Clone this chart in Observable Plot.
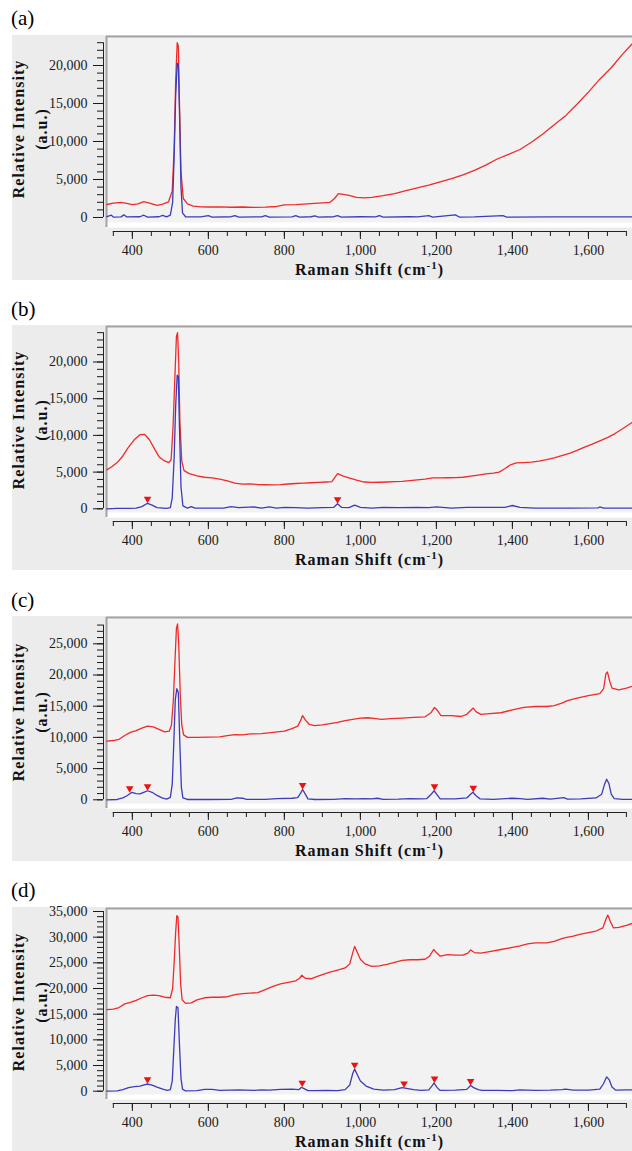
<!DOCTYPE html>
<html><head><meta charset="utf-8">
<script src="https://cdn.jsdelivr.net/npm/d3@7"></script>
<script src="https://cdn.jsdelivr.net/npm/@observablehq/plot@0.6"></script>
<style>
body{margin:0;background:#fff;}
#root{position:relative;width:632px;height:1151px;overflow:hidden;font-family:"Liberation Serif","Times New Roman",serif;}
.lab{position:absolute;left:11px;font-size:21px;line-height:21px;color:#000;}
.box{position:absolute;left:12px;width:620px;height:245px;background:#ececec;}
.wrap{position:absolute;left:0;width:632px;height:245px;}
.wrap svg text{font-family:"Liberation Serif","Times New Roman",serif;}
</style></head><body><div id="root"></div>
<script>
// ---------- data (Raman shift cm-1, intensity a.u.) ----------
const panelLabels = ["(a)", "(b)", "(c)", "(d)"];
const xTitle = "Raman Shift (cm-1)";
const yTitle1 = "Relative Intensity";
const yTitle2 = "(a.u.)";
const xMajorTicks = [400, 600, 800, 1000, 1200, 1400, 1600];

// (a)
const aRaw = [[333,1710],[350,1900],[370,2000],[385,1850],[400,1700],[415,1800],[430,2100],[445,1900],[465,1600],[480,1750],[495,2050],[505,3500],[510,9000],[514,18000],[518,23000],[521,22600],[524,15000],[528,6000],[534,2500],[545,1800],[560,1500],[580,1400],[600,1380],[630,1400],[660,1350],[690,1380],[720,1330],[750,1360],[780,1450],[800,1650],[830,1700],[860,1800],[890,1900],[920,2000],[932,2500],[942,3150],[955,3050],[970,2900],[990,2650],[1010,2580],[1030,2650],[1060,2880],[1090,3150],[1120,3550],[1150,3900],[1180,4250],[1210,4700],[1240,5100],[1270,5600],[1300,6200],[1330,6900],[1360,7700],[1390,8300],[1420,8950],[1450,9900],[1480,11000],[1510,12200],[1540,13400],[1570,14900],[1600,16500],[1630,18200],[1660,19700],[1690,21500],[1716,22900]];
const aProc = [[333,100],[345,300],[350,50],[370,80],[378,350],[385,80],[420,100],[430,300],[440,60],[470,100],[480,280],[490,80],[500,300],[506,2000],[510,8000],[514,16000],[518,20300],[521,20100],[524,14000],[528,4000],[532,600],[540,100],[580,80],[600,250],[610,60],[660,100],[670,250],[680,60],[740,80],[750,250],[760,60],[820,90],[830,250],[840,60],[870,100],[880,200],[890,60],[930,100],[940,250],[950,60],[1000,100],[1040,80],[1050,250],[1060,60],[1130,100],[1150,80],[1180,250],[1190,50],[1250,350],[1260,60],[1300,80],[1375,250],[1385,60],[1500,80],[1600,70],[1716,80]];
const aPeaks = [];

// (b)
const bRaw = [[333,5300],[345,5700],[360,6300],[375,7200],[390,8400],[405,9400],[420,10100],[432,10150],[445,9400],[458,8200],[470,7100],[482,6600],[496,6300],[502,6700],[507,11000],[512,18000],[516,23500],[519,24000],[522,20000],[525,12000],[530,6500],[536,5200],[550,4800],[570,4500],[590,4300],[610,4200],[630,4050],[650,3800],[670,3500],[690,3350],[710,3400],[730,3300],[750,3280],[770,3250],[790,3300],[810,3380],[830,3450],[850,3500],[870,3550],[890,3600],[910,3650],[925,3700],[940,4800],[955,4450],[970,4200],[990,3900],[1010,3650],[1030,3600],[1050,3620],[1070,3650],[1090,3700],[1110,3750],[1130,3850],[1150,3950],[1170,4050],[1190,4200],[1210,4200],[1230,4230],[1250,4250],[1270,4300],[1290,4450],[1310,4600],[1330,4750],[1350,4850],[1365,5000],[1380,5450],[1395,6000],[1410,6250],[1430,6300],[1450,6350],[1470,6500],[1490,6700],[1510,6950],[1530,7250],[1550,7550],[1570,7950],[1590,8400],[1610,8800],[1630,9250],[1650,9700],[1670,10250],[1690,10900],[1716,11800]];
const bProc = [[333,0],[360,50],[390,60],[410,80],[425,300],[440,750],[452,500],[465,150],[490,50],[500,150],[505,1500],[510,7000],[514,14000],[518,18200],[521,18000],[524,11000],[528,3000],[533,400],[545,100],[555,300],[565,80],[600,100],[640,100],[660,300],[680,150],[720,250],[740,100],[760,250],[780,100],[800,200],[830,150],[860,100],[900,150],[930,200],[940,700],[950,200],[970,150],[985,500],[1000,200],[1030,100],[1060,200],[1100,150],[1150,200],[1180,150],[1200,250],[1240,100],[1280,200],[1300,200],[1340,200],[1380,200],[1400,450],[1420,200],[1460,100],[1550,100],[1625,120],[1630,250],[1640,80],[1716,80]];
const bPeaks = [[440,750],[940,700]];

// (c)
const cRaw = [[333,9400],[350,9500],[365,9700],[380,10300],[395,10800],[410,11100],[425,11500],[440,11800],[455,11700],[470,11300],[485,10900],[497,11000],[503,12000],[508,16000],[512,22000],[516,27500],[519,28200],[522,25000],[526,17000],[530,12000],[535,10400],[545,10000],[570,10000],[600,10050],[630,10100],[650,10300],[670,10450],[690,10400],[710,10550],[740,10600],[770,10800],[800,11000],[820,11400],[835,11800],[842,12600],[848,13500],[855,12800],[865,12100],[880,11900],[900,12000],[920,12200],[940,12400],[960,12700],[980,12900],[1000,13100],[1020,13150],[1040,13000],[1055,12900],[1080,13000],[1110,13100],[1140,13200],[1170,13300],[1185,13900],[1195,14800],[1203,14300],[1212,13500],[1240,13500],[1265,13350],[1280,13700],[1290,14300],[1297,14700],[1305,14100],[1317,13700],[1340,13800],[1370,13950],[1400,14400],[1430,14800],[1460,14950],[1490,14950],[1510,15100],[1530,15500],[1545,15900],[1570,16300],[1600,16700],[1630,17000],[1640,17800],[1646,20200],[1650,20500],[1656,19000],[1662,17900],[1680,17600],[1700,17900],[1716,18200]];
const cProc = [[333,0],[360,50],[375,300],[386,650],[399,1200],[410,1000],[420,950],[430,1200],[440,1450],[452,1200],[465,700],[478,300],[490,100],[500,400],[505,2500],[509,9000],[513,16000],[517,17800],[521,17200],[525,9000],[529,2000],[533,300],[545,50],[600,50],[660,80],[675,300],[690,250],[700,80],[750,80],[780,200],[820,250],[835,350],[842,1000],[848,1650],[855,900],[862,150],[880,50],[930,80],[960,200],[990,150],[1010,200],[1030,150],[1045,250],[1060,80],[1100,100],[1130,200],[1160,150],[1175,200],[1185,800],[1194,1450],[1202,800],[1210,150],[1250,150],[1280,300],[1290,900],[1296,1200],[1305,600],[1315,150],[1350,80],[1400,250],[1420,200],[1440,80],[1480,250],[1500,100],[1535,350],[1545,100],[1580,150],[1620,300],[1635,900],[1642,2400],[1648,3300],[1654,2600],[1660,900],[1668,200],[1690,80],[1716,80]];
const cPeaks = [[393,1150],[440,1450],[848,1650],[1195,1450],[1297,1200]];

// (d)
const dRaw = [[333,15900],[350,16000],[365,16300],[380,17000],[395,17300],[410,17700],[425,18200],[440,18600],[455,18700],[470,18600],[485,18300],[500,18200],[506,20000],[510,25000],[514,31000],[517,34200],[520,34000],[523,29000],[527,21000],[531,17800],[540,17100],[555,17200],[570,17800],[590,18200],[610,18300],[630,18300],[650,18400],[670,18800],[690,19000],[710,19100],[730,19200],[750,19800],[770,20400],[790,20900],[810,21200],[830,21500],[840,22000],[846,22600],[855,22000],[870,21900],[885,22300],[900,22700],[920,23200],[940,23600],[960,24000],[972,24800],[980,27000],[985,28200],[992,27000],[1000,25700],[1012,24800],[1030,24300],[1050,24400],[1070,24700],[1090,25100],[1110,25500],[1130,25600],[1150,25600],[1170,25700],[1182,26300],[1193,27600],[1200,27000],[1210,26300],[1230,26600],[1250,26500],[1270,26500],[1283,26900],[1290,27500],[1300,27000],[1317,26900],[1340,27200],[1370,27600],[1400,28000],[1420,28300],[1440,28700],[1460,28900],[1490,28900],[1510,29200],[1530,29700],[1540,29900],[1560,30200],[1580,30600],[1600,30900],[1620,31200],[1638,31800],[1646,33500],[1651,34300],[1658,33000],[1666,31800],[1680,31900],[1700,32300],[1716,32700]];
const dProc = [[333,0],[360,50],[375,300],[390,700],[405,900],[420,1000],[438,1400],[452,1200],[465,800],[480,400],[492,150],[500,300],[505,2000],[509,8000],[513,14000],[516,16500],[520,16300],[524,9000],[528,2500],[532,400],[540,50],[570,100],[590,350],[610,350],[630,150],[680,250],[700,200],[720,150],[740,250],[760,200],[790,350],[820,400],[838,300],[845,750],[852,500],[862,100],[880,100],[910,150],[940,100],[960,300],[972,1200],[980,3500],[985,4300],[992,3200],[1000,2000],[1015,1000],[1035,400],[1060,200],[1090,300],[1110,700],[1125,500],[1140,300],[1160,150],[1180,250],[1188,1000],[1194,1600],[1202,700],[1210,150],[1250,200],[1280,350],[1290,1100],[1298,700],[1310,300],[1320,150],[1360,150],[1400,100],[1420,250],[1460,150],[1500,200],[1530,300],[1540,400],[1560,200],[1600,200],[1630,400],[1640,1500],[1648,2800],[1655,2200],[1662,800],[1672,200],[1700,250],[1716,250]];
const dPeaks = [[440,1450],[847,800],[985,4300],[1115,650],[1195,1600],[1290,1100]];

// ---------- layout ----------
const layout = [
  {labelTop: 8,   boxTop: 35,  yDomain: [-1316, 23816], topTick: 23000, raw: aRaw, proc: aProc, peaks: aPeaks, tdy: -3},
  {labelTop: 299, boxTop: 325, yDomain: [-1185, 24837], topTick: 24000, raw: bRaw, proc: bProc, peaks: bPeaks, tdy: -2},
  {labelTop: 590, boxTop: 616, yDomain: [-1394, 29215], topTick: 28000, raw: cRaw, proc: cProc, peaks: cPeaks, tdy: -1},
  {labelTop: 880, boxTop: 907, yDomain: [-1617, 35586], topTick: 35000, raw: dRaw, proc: dProc, peaks: dPeaks, tdy: -2}
];

const downTriangle = {
  draw(ctx, size) {
    const r = Math.sqrt(size / Math.PI);
    ctx.moveTo(-r, -r * 1.7);
    ctx.lineTo(r, -r * 1.7);
    ctx.lineTo(0, 0);
    ctx.closePath();
  }
};

const root = document.getElementById("root");
const xMin = 332, xMax = 1716;
const fmt = d3.format(",");
const serif = "'Liberation Serif', 'Times New Roman', serif";

layout.forEach((p, i) => {
  const lab = document.createElement("div");
  lab.className = "lab"; lab.style.top = p.labelTop + "px"; lab.textContent = panelLabels[i];
  root.appendChild(lab);
  const box = document.createElement("div");
  box.className = "box"; box.style.top = p.boxTop + "px";
  root.appendChild(box);

  const toObj = (arr) => arr.map(([x, y]) => ({x, y}));
  const [y0, y1] = p.yDomain;
  const svg = Plot.plot({
    width: 632, height: 245,
    marginTop: 1, marginBottom: 53, marginLeft: 106, marginRight: 0,
    x: {domain: [xMin, xMax]},
    y: {domain: p.yDomain},
    style: {background: "transparent", fontFamily: serif, fontSize: "14px", color: "#1a1a1a", overflow: "visible"},
    marks: [
      Plot.frame({fill: "#f2f2f2", stroke: "none"}),
      Plot.ruleY([y0], {stroke: "#ffffff", strokeWidth: 5, dy: -2.5}),
      Plot.ruleY([y1], {stroke: "#a3a3a3", strokeWidth: 2}),
      Plot.ruleX([xMin], {stroke: "#a3a3a3", strokeWidth: 2}),
      Plot.line(toObj(p.raw), {x: "x", y: "y", stroke: "#f02a2a", strokeWidth: 1.3}),
      Plot.line(toObj(p.proc), {x: "x", y: "y", stroke: "#3c3cb9", strokeWidth: 1.3}),
      Plot.dot(toObj(p.peaks), {x: "x", y: "y", symbol: downTriangle, r: 3.8, fill: "#ee1111", stroke: "none"}),
      Plot.ruleX([xMin], {y1: 0, y2: p.topTick, dx: -3, stroke: "#222"}),
      Plot.axisY({ticks: d3.range(0, p.topTick + 1, 1000), tickSize: 6, tickFormat: () => "", dx: -3, label: null}),
      Plot.axisY({ticks: d3.range(0, p.topTick + 1, 5000), tickSize: 10, tickPadding: 6, tickFormat: fmt, dx: -3, label: null}),
      Plot.ruleY([y0], {x1: 350, x2: 1700, dy: 4, stroke: "#222"}),
      Plot.axisX({ticks: d3.range(350, 1701, 50), tickSize: 5, tickFormat: () => "", dy: 4, label: null}),
      Plot.axisX({ticks: xMajorTicks, tickSize: 8, tickPadding: 6, tickFormat: fmt, dy: 4, label: null}),
      Plot.text([xTitle], {frameAnchor: "bottom", textAnchor: "middle", lineAnchor: "middle", dy: 42, fontWeight: "bold", fontSize: 16, fill: "#111"}),
      Plot.text([yTitle1], {frameAnchor: "left", textAnchor: "middle", lineAnchor: "middle", rotate: -90, dx: -87.6, dy: p.tdy, fontWeight: "bold", fontSize: 16, fill: "#111"}),
      Plot.text([yTitle2], {frameAnchor: "left", textAnchor: "middle", lineAnchor: "middle", rotate: -90, dx: -64.7, dy: p.tdy, fontWeight: "bold", fontSize: 16, fill: "#111"})
    ]
  });

  d3.select(svg).selectAll("text").each(function () {
    const t = this.textContent;
    const s = d3.select(this);
    if (t === xTitle) {
      this.textContent = "";
      s.attr("letter-spacing", 1);
      s.append("tspan").text("Raman Shift (cm");
      s.append("tspan").attr("dy", -6).attr("font-size", "11px").text("-1");
      s.append("tspan").attr("dy", 6).text(")");
    } else if (t === yTitle1 || t === yTitle2) {
      s.attr("letter-spacing", 1);
    }
  });

  const wrap = document.createElement("div");
  wrap.className = "wrap"; wrap.style.top = p.boxTop + "px";
  wrap.appendChild(svg);
  root.appendChild(wrap);
});
</script></body></html>
